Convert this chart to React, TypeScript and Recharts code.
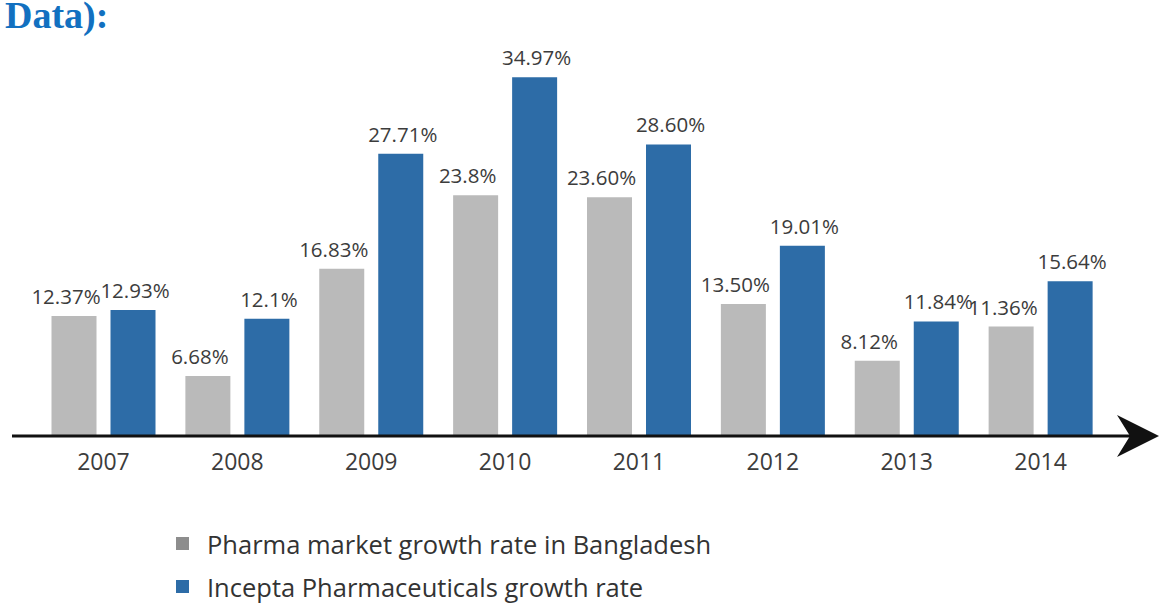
import { BarChart, Bar, XAxis, YAxis, LabelList, Legend } from 'recharts';

const years = ['2007', '2008', '2009', '2010', '2011', '2012', '2013', '2014'];
const marketGrowth = [12.37, 6.68, 16.83, 23.8, 23.6, 13.5, 8.12, 11.36];
const inceptaGrowth = [12.93, 12.1, 27.71, 34.97, 28.6, 19.01, 11.84, 15.64];
const marketLabels = ['12.37%', '6.68%', '16.83%', '23.8%', '23.60%', '13.50%', '8.12%', '11.36%'];
const inceptaLabels = ['12.93%', '12.1%', '27.71%', '34.97%', '28.60%', '19.01%', '11.84%', '15.64%'];

const seriesNames = ['Pharma market growth rate in Bangladesh', 'Incepta Pharmaceuticals growth rate'];

const GRAY = '#bababa';
const BLUE = '#2d6ca7';
const TEXT = '#3c3c3c';

const data = years.map((year, i) => ({
    year,
    market: marketGrowth[i],
    incepta: inceptaGrowth[i],
    marketLabel: marketLabels[i],
    inceptaLabel: inceptaLabels[i],
}));

function LegendBox() {
    const swatches = ['#8d8d8d', BLUE];
    return (
        <div>
            {seriesNames.map((name, i) => (
                <div key={name} style={{ display: 'flex', alignItems: 'center', height: 43 }}>
                    <span style={{ width: 13, height: 13, background: swatches[i], marginRight: 18 }} />
                    <span style={{ fontSize: 25.5, color: '#333', whiteSpace: 'nowrap' }}>{name}</span>
                </div>
            ))}
        </div>
    );
}

export default function App() {
    return (
        <div style={{ position: 'absolute', left: 0, top: 0, width: 1159, height: 603, background: '#fff', fontFamily: "'Open Sans', sans-serif" }}>
            <BarChart
                width={1159}
                height={603}
                data={data}
                barSize={45}
                barGap={14}
                margin={{ top: 24, right: 19, bottom: 127, left: 12 }}
            >
                <XAxis
                    dataKey="year"
                    height={40}
                    padding={{ left: 24.5, right: 32.5 }}
                    axisLine={{ stroke: '#111', strokeWidth: 3 }}
                    tickLine={false}
                    tickMargin={12}
                    tick={{ fill: TEXT, fontSize: 23 }}
                />
                <YAxis hide domain={[1, 40]} />
                <Legend
                    verticalAlign="middle"
                    align="center"
                    layout="horizontal"
                    content={() => <LegendBox />}
                    wrapperStyle={{ top: 522, left: 176, width: 620 }}
                />
                <Bar dataKey="market" fill={GRAY} isAnimationActive={false}>
                    <LabelList dataKey="marketLabel" position="top" offset={12} dx={-8} fill={TEXT} fontSize={20.5} />
                </Bar>
                <Bar dataKey="incepta" fill={BLUE} isAnimationActive={false}>
                    <LabelList dataKey="inceptaLabel" position="top" offset={12} dx={2} fill={TEXT} fontSize={20.5} />
                </Bar>
            </BarChart>
            <svg width={1159} height={603} style={{ position: 'absolute', left: 0, top: 0, pointerEvents: 'none' }}>
                <text x={5} y={28} fontFamily="'Liberation Serif', serif" fontWeight="bold" fontSize={38} fill="#1270c0">
                    Data):
                </text>
                <polygon points="1117,415 1159,436 1117,457 1130,436" fill="#111" />
            </svg>
        </div>
    );
}
